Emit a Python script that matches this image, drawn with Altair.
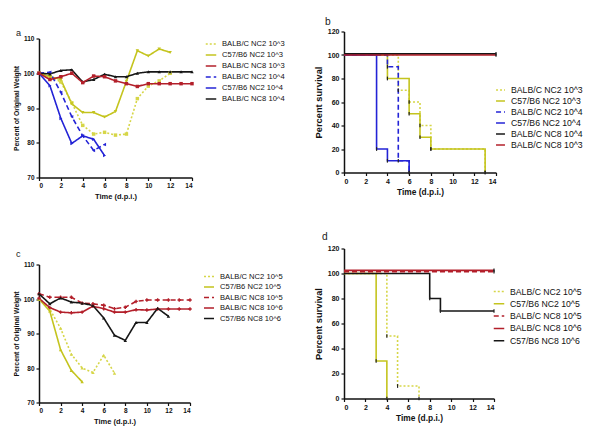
import altair as alt
import pandas as pd

FONT = "Liberation Sans, Arial, sans-serif"

# ---------------- data ----------------
# panel a : body weight (% of original), day index = list position
a_names = ["BALB/C NC2 10^3", "C57/B6 NC2 10^3", "BALB/C NC8 10^3",
           "BALB/C NC2 10^4", "C57/B6 NC2 10^4", "BALB/C NC8 10^4"]
a_balbc_nc2_e3 = [100, 99, 97.5, 91.5, 85, 82.5, 83, 82.2, 82.5, 92.7, 96.3, 97.8, 100]
a_c57_nc2_e3 = [100, 99, 98.2, 91.2, 88.7, 88.7, 87.4, 89, 97.7, 106.5, 105, 107, 106]
a_balbc_nc8_e3 = [100, 98.2, 99, 100, 97.3, 99.2, 99, 97.8, 97, 96.2, 97, 97, 97, 97, 97]
a_balbc_nc2_e4 = [100, 100.3, 94.5, 87.5, 82, 77.8, 79.5]
a_c57_nc2_e4 = [100, 96.4, 87, 79.8, 82, 81, 76.3]
a_balbc_nc8_e4 = [100, 99.8, 100.8, 101, 97.5, 98.2, 99.7, 99, 99, 100, 100.4, 100.4, 100.4, 100.4, 100.4]

# panel b : percent survival (event days, values)
b_names = ["BALB/C NC2 10^3", "C57/B6 NC2 10^3", "BALB/C NC2 10^4",
           "C57/B6 NC2 10^4", "BALB/C NC8 10^4", "BALB/C NC8 10^3"]
b_balbc_nc2_e3_t = [0, 5, 6, 7, 8, 13]
b_balbc_nc2_e3_v = [100, 70, 60, 40, 20, 0]
b_c57_nc2_e3_t = [0, 4, 6, 7, 8, 13]
b_c57_nc2_e3_v = [100, 80, 50, 30, 20, 0]
b_balbc_nc2_e4_t = [0, 4, 5, 6]
b_balbc_nc2_e4_v = [100, 90, 10, 0]
b_c57_nc2_e4_t = [0, 3, 4, 6]
b_c57_nc2_e4_v = [100, 20, 10, 0]
b_balbc_nc8_e4_t = [0, 14]
b_balbc_nc8_e4_v = [101, 101]
b_balbc_nc8_e3_t = [0, 14]
b_balbc_nc8_e3_v = [100, 100]

# panel c : body weight
c_names = ["BALB/C NC2 10^5", "C57/B6 NC2 10^5", "BALB/C NC8 10^5",
           "BALB/C NC8 10^6", "C57/B6 NC8 10^6"]
c_balbc_nc2_e5 = [100, 97, 91.5, 84, 80, 78.7, 83.7, 78.5]
c_c57_nc2_e5 = [100, 96.5, 85.3, 79.3, 76]
c_balbc_nc8_e5 = [101.5, 100.5, 100.5, 100.5, 98.8, 98.6, 98.2, 97.2, 97.6, 99.3, 99.7, 99.7, 99.7, 99.7, 99.7]
c_balbc_nc8_e6 = [100.2, 97.5, 96.2, 96, 96.2, 97.9, 97.2, 96.2, 96.2, 96.9, 96.8, 97.1, 97.1, 97.1, 97.1]
c_c57_nc8_e6 = [101.5, 98.6, 100.3, 99.1, 98.8, 98.1, 94.5, 89.5, 88, 93.2, 93.2, 97.3, 95]

# panel d : percent survival
d_names = ["BALB/C NC2 10^5", "C57/B6 NC2 10^5", "BALB/C NC8 10^5",
           "BALB/C NC8 10^6", "C57/B6 NC8 10^6"]
d_balbc_nc2_e5_t = [0, 4, 5, 7]
d_balbc_nc2_e5_v = [100, 50, 10, 0]
d_c57_nc2_e5_t = [0, 3, 4]
d_c57_nc2_e5_v = [100, 30, 0]
d_balbc_nc8_e5_t = [0, 14]
d_balbc_nc8_e5_v = [101.5, 101.5]
d_balbc_nc8_e6_t = [0, 14]
d_balbc_nc8_e6_v = [102.5, 102.5]
d_c57_nc8_e6_t = [0, 8, 9, 14]
d_c57_nc8_e6_v = [100, 80, 70, 70]

# ---------------- styles ----------------
YEL_DOT = "#d6d648"
YEL = "#c4c41e"
RED = "#b31f2a"
BLUE = "#2323d6"
BLACK = "#161616"
DOT = [2, 2]
DASH = [5, 3]
SOLID = [1, 0]


def days(v):
    return list(range(len(v)))


def panel(names, zorder, xs, ys, colors, dashes, shapes, survival, w, h, top,
          ydom, yvals, ytitle, lx, ly, symsize, rowpad, tfs, xtfs, ytfs, lfs, title, tdx, tdy):
    rows = []
    for i in zorder:
        for x, y in zip(xs[i], ys[i]):
            rows.append({"t": x, "v": y, "s": names[i], "c": colors[i], "sh": shapes[i]})
    df = pd.DataFrame(rows)
    leg = alt.Legend(title=None, orient="none", legendX=lx, legendY=ly,
                     symbolType="stroke", symbolSize=symsize, symbolStrokeWidth=1.5,
                     labelFontSize=lfs, labelFont=FONT, labelColor="#111",
                     rowPadding=rowpad, labelOffset=5, padding=0, labelLimit=300)
    ax_common = dict(labelFontSize=tfs, labelFont=FONT, labelFontWeight="bold",
                     labelColor="#111", titleFont=FONT,
                     titleFontWeight="bold", titleColor="#111", domainColor="#111",
                     domainWidth=1.5, tickColor="#111", tickWidth=1.2, tickSize=3,
                     grid=False, labelPadding=2)
    x = alt.X("t:Q", scale=alt.Scale(domain=[0, 14], nice=False, zero=False),
              axis=alt.Axis(values=list(range(0, 15, 2)), title="Time (d.p.i.)",
                            titlePadding=3, titleFontSize=xtfs, **ax_common))
    y = alt.Y("v:Q", scale=alt.Scale(domain=ydom, nice=False, zero=False, range=[h, top]),
              axis=alt.Axis(values=yvals, title=ytitle, titlePadding=4, titleFontSize=ytfs, **ax_common))
    line = alt.Chart(df).mark_line(
        strokeWidth=1.6, interpolate="step-after" if survival else "linear"
    ).encode(
        x=x, y=y,
        color=alt.Color("s:N", scale=alt.Scale(domain=names, range=colors), legend=leg),
        strokeDash=alt.StrokeDash("s:N", scale=alt.Scale(domain=names, range=dashes), legend=leg),
    )
    if survival:
        pts = alt.Chart(df).transform_filter("datum.t > 0").mark_point(
            shape="M0,-1V1", filled=False, size=14, strokeWidth=1.2, color="#222", opacity=1
        ).encode(x=x, y=y)
    else:
        pts = alt.Chart(df).mark_point(filled=True, size=12, opacity=1).encode(
            x=x, y=y,
            color=alt.Color("c:N", scale=None),
            shape=alt.Shape("sh:N", scale=None),
        )
    return alt.layer(line, pts).properties(
        width=w, height=h,
        title=alt.TitleParams(text=title, anchor="start", frame="group", dx=tdx, dy=tdy,
                              fontSize=lfs + 1.5, font=FONT, fontWeight="normal", color="#222"),
    )


a = panel(a_names, [0, 1, 3, 4, 5, 2],
          [days(a_balbc_nc2_e3), days(a_c57_nc2_e3), days(a_balbc_nc8_e3),
           days(a_balbc_nc2_e4), days(a_c57_nc2_e4), days(a_balbc_nc8_e4)],
          [a_balbc_nc2_e3, a_c57_nc2_e3, a_balbc_nc8_e3, a_balbc_nc2_e4, a_c57_nc2_e4, a_balbc_nc8_e4],
          [YEL_DOT, YEL, RED, BLUE, BLUE, BLACK],
          [DOT, SOLID, SOLID, DASH, SOLID, SOLID],
          ["square", "triangle-down", "square", "triangle-left", "triangle-right", "triangle-up"],
          False, 153, 146, 7, [70, 110], [70, 80, 90, 100, 110], "Percent of Original Weight",
          166, 6.5, 110, 1, 6.5, 7.5, 6.8, 7.6, "a", -23, 11)

b = panel(b_names, [0, 1, 2, 3, 4, 5],
          [b_balbc_nc2_e3_t, b_c57_nc2_e3_t, b_balbc_nc2_e4_t, b_c57_nc2_e4_t, b_balbc_nc8_e4_t, b_balbc_nc8_e3_t],
          [b_balbc_nc2_e3_v, b_c57_nc2_e3_v, b_balbc_nc2_e4_v, b_c57_nc2_e4_v, b_balbc_nc8_e4_v, b_balbc_nc8_e3_v],
          [YEL_DOT, YEL, BLUE, BLUE, BLACK, RED],
          [DOT, SOLID, DASH, SOLID, SOLID, SOLID],
          ["square"] * 6,
          True, 152, 141, 0, [0, 120], [0, 20, 40, 60, 80, 100, 120], "Percent survival",
          151, 53, 80, 0, 7, 8.4, 9.3, 8.7, "b", -19, 4)

c = panel(c_names, [0, 1, 2, 3, 4],
          [days(c_balbc_nc2_e5), days(c_c57_nc2_e5), days(c_balbc_nc8_e5), days(c_balbc_nc8_e6), days(c_c57_nc8_e6)],
          [c_balbc_nc2_e5, c_c57_nc2_e5, c_balbc_nc8_e5, c_balbc_nc8_e6, c_c57_nc8_e6],
          [YEL_DOT, YEL, RED, RED, BLACK],
          [DOT, SOLID, DASH, SOLID, SOLID],
          ["triangle-up", "triangle-up", "cross", "cross", "triangle-up"],
          False, 151, 154, 16, [70, 110], [70, 80, 90, 100, 110], "Percent of Original Weight",
          164, 22, 100, 0.5, 6.5, 7.5, 6.8, 7.6, "c", -23, 15)

d = panel(d_names, [0, 1, 4, 2, 3],
          [d_balbc_nc2_e5_t, d_c57_nc2_e5_t, d_balbc_nc8_e5_t, d_balbc_nc8_e6_t, d_c57_nc8_e6_t],
          [d_balbc_nc2_e5_v, d_c57_nc2_e5_v, d_balbc_nc8_e5_v, d_balbc_nc8_e6_v, d_c57_nc8_e6_v],
          [YEL_DOT, YEL, RED, RED, BLACK],
          [DOT, SOLID, DASH, SOLID, SOLID],
          ["square"] * 5,
          True, 150, 150, 0, [0, 120], [0, 20, 40, 60, 80, 100, 120], "Percent survival",
          149, 37, 110, 1.3, 7, 8.4, 9.3, 8.7, "d", -22, 2)

res = dict(color="independent", strokeDash="independent")
chart = alt.concat(a, b, c, d, columns=2, spacing={"row": 71, "column": 152},
                   bounds="flush").resolve_scale(**res).resolve_legend(**res)
chart = chart.properties(padding={"left": 5, "top": 8.5, "right": 0, "bottom": 5}).configure_view(stroke=None)

chart.save("out.html", embed_options={"renderer": "svg", "actions": False})
